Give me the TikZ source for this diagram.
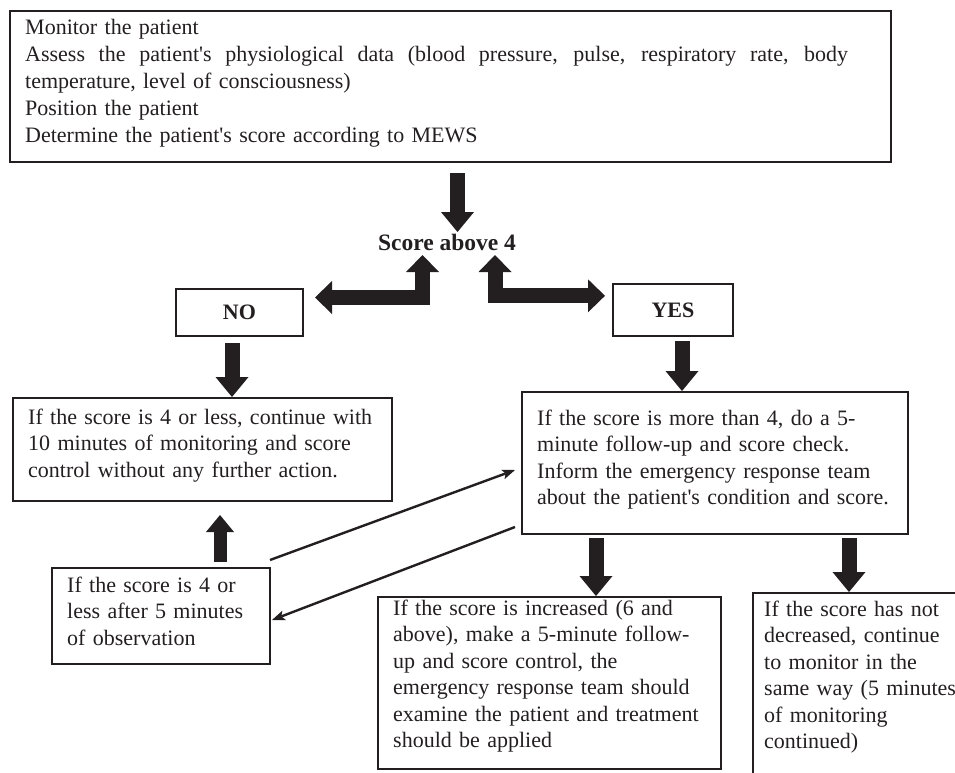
\documentclass[tikz,border=0pt]{standalone}
\usepackage{fontspec}
\setmainfont{Liberation Serif}
\usetikzlibrary{arrows.meta}
\definecolor{ink}{RGB}{35,31,32}
\begin{document}
\begin{tikzpicture}[x=1pt,y=-1pt,
  box/.style={draw=ink, line width=1.8pt, inner sep=0pt, anchor=north west},
  txt/.style={font=\fontsize{22}{26.5}\selectfont, text=ink, inner sep=0pt, anchor=base west, align=left},
  lbl/.style={font=\fontsize{22}{26}\selectfont\bfseries, text=ink},
  blk/.style={draw=ink, line width=15pt, -{Triangle[length=20pt,width=33pt,line width=0pt]}},
  blkup/.style={draw=ink, line width=13pt, -{Triangle[length=17pt,width=28pt,line width=0pt]}},
  blktwo/.style={draw=ink, line width=15pt, line join=miter,
     {Triangle[length=17pt,width=33pt,line width=0pt]}-{Triangle[length=17pt,width=33pt,line width=0pt]}},
  thin/.style={draw=ink, line width=2.4pt, -{Stealth[length=13pt,width=10pt,inset=3pt,line width=0pt]}}]
\useasboundingbox (0,0) rectangle (955,772);
\clip (0,0) rectangle (955,772);

% boxes
\node[box, minimum width=881pt, minimum height=151pt] (top) at (9,10) {};
\node[txt, font=\fontsize{22}{27}\selectfont, text width=849pt] (toptext) at (25,34) {Monitor the patient\\
\leavevmode\hbox to 823pt{\spaceskip=0.25em plus 1fil\relax Assess the patient\textquotesingle s physiological data (blood pressure, pulse, respiratory rate, body}\\
temperature, level of consciousness)\\
Position the patient\\
Determine the patient\textquotesingle s score according to MEWS};

\node[font=\fontsize{23.5}{28}\selectfont\bfseries, text=ink, inner sep=0pt, anchor=base] (score) at (447,250) {Score above 4};

\node[box, lbl, minimum width=127pt, minimum height=47pt] (no) at (175,288) {NO};
\node[box, lbl, minimum width=120pt, minimum height=52pt] (yes) at (612,283) {YES};

\node[box, minimum width=379pt, minimum height=103pt] (lbox) at (12,397) {};
\node[txt, text width=350pt] (ltext) at (28,424) {If the score is 4 or less, continue with\\
10 minutes of monitoring and score\\
control without any further action.};

\node[box, minimum width=218pt, minimum height=96pt] (sbox) at (51,567) {};
\node[txt, text width=190pt] (stext) at (67,592) {If the score is 4 or\\
less after 5 minutes\\
of observation};

\node[box, minimum width=386pt, minimum height=142pt] (rbox) at (521,391) {};
\node[txt, text width=360pt] (rtext) at (537,425) {If the score is more than 4, do a 5-\\
minute follow-up and score check.\\
Inform the emergency response team\\
about the patient\textquotesingle s condition and score.};

\node[box, minimum width=343pt, minimum height=172pt] (mbox) at (377,596) {};
\node[txt, text width=320pt] (mtext) at (393,615) {If the score is increased (6 and\\
above), make a 5-minute follow-\\
up and score control, the\\
emergency response team should\\
examine the patient and treatment\\
should be applied};

\node[box, minimum width=260pt, minimum height=200pt] (qbox) at (752,592) {};
\node[txt, text width=220pt] (qtext) at (764,616) {If the score has not\\
decreased, continue\\
to monitor in the\\
same way (5 minutes\\
of monitoring\\
continued)};

% connector end points
\coordinate (a1s) at (457.5,173);
\coordinate (a1e) at (457.5,232);
\coordinate (l1) at (422.5,255);
\coordinate (l2) at (315,297.5);
\coordinate (r1) at (495,255);
\coordinate (r2) at (605,295.8);
\coordinate (n1) at (232,343);
\coordinate (n2) at (232,397);
\coordinate (y1) at (682,341);
\coordinate (y2) at (682,391);
\coordinate (u1) at (220,562);
\coordinate (u2) at (220,515);
\coordinate (b1) at (596,538);
\coordinate (b2) at (596,596);
\coordinate (c1) at (849,538);
\coordinate (c2) at (849,592);
\coordinate (t1s) at (270,560);
\coordinate (t1e) at (515,470);
\coordinate (t2s) at (515,527);
\coordinate (t2e) at (272,620);

% block arrows
\draw[blk] (a1s) -- (a1e);
\draw[blktwo] (l1) |- (l2);
\draw[blktwo] (r1) |- (r2);
\draw[blk] (n1) -- (n2);
\draw[blk] (y1) -- (y2);
\draw[blkup] (u1) -- (u2);
\draw[blk] (b1) -- (b2);
\draw[blk] (c1) -- (c2);

% thin arrows
\draw[thin] (t1s) -- (t1e);
\draw[thin] (t2s) -- (t2e);
\end{tikzpicture}
\end{document}
